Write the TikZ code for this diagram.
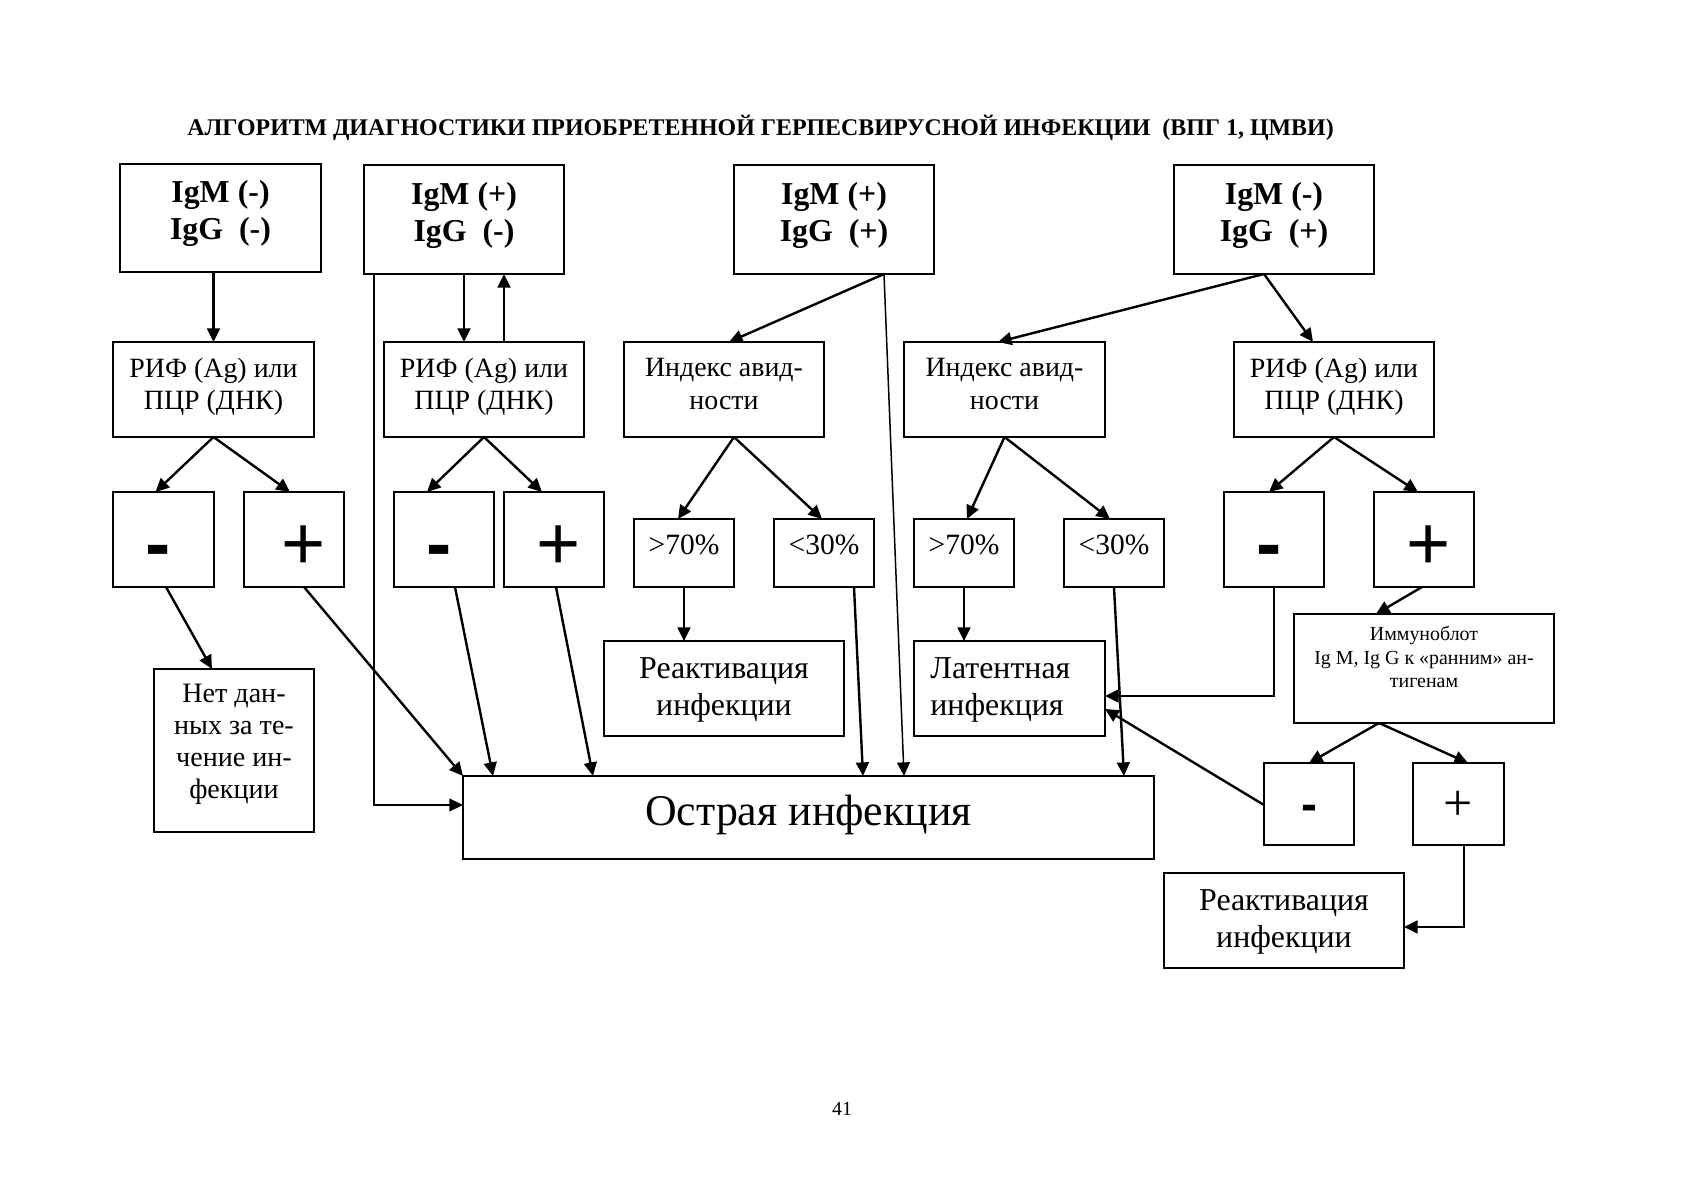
\documentclass[tikz,border=0pt]{standalone}
\usepackage{fontspec}
\setmainfont{Liberation Serif}
\newfontfamily\signfont{Liberation Sans}
\usetikzlibrary{arrows.meta,calc}
\newcommand\mkbox[5]{\node[box,minimum width={(#4-#2)*0.5bp},minimum height={(#5-#3)*0.5bp}] (#1) at ({(#2+#4)/2},{(#3+#5)/2}) {};}
\begin{document}
\begin{tikzpicture}[x=0.5bp,y=-0.5bp,
  box/.style={draw,line width=0.75bp,inner sep=0pt,outer sep=0pt},
  arr/.style={line width=1.2bp,-{Triangle[length=6.8bp,width=6.4bp]}},
  arrthin/.style={line width=0.75bp,-{Triangle[length=6.8bp,width=6.4bp]}},
  igtxt/.style={font=\fontsize{16}{18.75}\bfseries\selectfont,align=center},
  midtxt/.style={font=\fontsize{14}{16.25}\selectfont,align=center},
  pcttxt/.style={font=\fontsize{14.8}{16}\selectfont,anchor=base},
  bigtxt/.style={font=\fontsize{16}{18.5}\selectfont,align=center},
  minussign/.style={font={\signfont\bfseries\fontsize{38}{40}\selectfont},anchor=base,inner sep=0pt},
  plussign/.style={font={\signfont\fontsize{38}{40}\selectfont},anchor=base,inner sep=0pt}]
\useasboundingbox (0,0) rectangle (1684,1191);
\fill[white] (0,0) rectangle (1684,1191);

\node[font=\fontsize{12}{14}\bfseries\selectfont,anchor=base] (title) at (760.5,136)
  {АЛГОРИТМ ДИАГНОСТИКИ ПРИОБРЕТЕННОЙ ГЕРПЕСВИРУСНОЙ ИНФЕКЦИИ\ \ (ВПГ 1, ЦМВИ)};

% boxes
\mkbox{A}{120}{164}{321}{272}
\mkbox{B}{364}{165}{564}{274}
\mkbox{C}{734}{165}{934}{274}
\mkbox{D}{1174}{165}{1374}{274}
\mkbox{R1}{113}{342}{314}{437}
\mkbox{R2}{384}{342}{584}{437}
\mkbox{I1}{624}{342}{824}{437}
\mkbox{I2}{904}{342}{1105}{437}
\mkbox{R3}{1234}{342}{1434}{437}
\mkbox{M1}{113}{492}{214}{587}
\mkbox{P1}{244}{492}{344}{587}
\mkbox{M2}{394}{492}{494}{587}
\mkbox{P2}{504}{492}{604}{587}
\mkbox{G1}{634}{519}{734}{587}
\mkbox{L1}{774}{519}{874}{587}
\mkbox{G2}{914}{519}{1014}{587}
\mkbox{L2}{1064}{519}{1164}{587}
\mkbox{M3}{1224}{492}{1324}{587}
\mkbox{P3}{1374}{492}{1474}{587}
\mkbox{ND}{154}{669}{314}{832}
\mkbox{RA1}{604}{641}{844}{736}
\mkbox{LT}{914}{641}{1105}{736}
\mkbox{IB}{1294}{614}{1554}{723}
\mkbox{OS}{463}{776}{1154}{859}
\mkbox{M4}{1264}{763}{1354}{845}
\mkbox{P4}{1413}{763}{1504}{845}
\mkbox{RA2}{1164}{873}{1404}{968}

% texts
\node[igtxt] (tA) at ($(A.center)+(0,-4.3)$) {IgM (-)\\IgG\ \ (-)};
\node[igtxt] (tB) at ($(B.center)+(0,-4.3)$) {IgM (+)\\IgG\ \ (-)};
\node[igtxt] (tC) at ($(C.center)+(0,-4.3)$) {IgM (+)\\IgG\ \ (+)};
\node[igtxt] (tD) at ($(D.center)+(0,-4.3)$) {IgM (-)\\IgG\ \ (+)};
\node[midtxt] (tR1) at ($(R1.center)+(0,-3)$) {РИФ (Ag) или\\ПЦР (ДНК)};
\node[midtxt] (tR2) at ($(R2.center)+(0,-3)$) {РИФ (Ag) или\\ПЦР (ДНК)};
\node[midtxt] (tR3) at ($(R3.center)+(0,-3)$) {РИФ (Ag) или\\ПЦР (ДНК)};
\node[midtxt] (tI1) at ($(I1.center)+(0,-5.5)$) {Индекс авид-\\ности};
\node[midtxt] (tI2) at ($(I2.center)+(0,-5.5)$) {Индекс авид-\\ности};
\node[pcttxt] (tG1) at ($(G1.south)+(0,-32)$) {>70\%};
\node[pcttxt] (tL1) at ($(L1.south)+(0,-32)$) {<30\%};
\node[pcttxt] (tG2) at ($(G2.south)+(0,-32)$) {>70\%};
\node[pcttxt] (tL2) at ($(L2.south)+(0,-32)$) {<30\%};
\node[minussign] (tM1) at ($(M1.south)+(-5,-17)$) {-};
\node[plussign] (tP1) at ($(P1.south)+(10,-17)$) {+};
\node[minussign] (tM2) at ($(M2.south)+(-5,-17)$) {-};
\node[plussign] (tP2) at ($(P2.south)+(5,-17)$) {+};
\node[minussign] (tM3) at ($(M3.south)+(-5,-17)$) {-};
\node[plussign] (tP3) at ($(P3.south)+(5,-17)$) {+};
\node[font={\signfont\bfseries\fontsize{24}{26}\selectfont},anchor=base,inner sep=0pt] (tM4) at ($(M4.south)+(0,-24)$) {-};
\node[font=\fontsize{26}{28}\selectfont,anchor=base,inner sep=0pt] (tP4) at ($(P4.south)+(0,-24)$) {+};
\node[font=\fontsize{14.1}{16}\selectfont,align=center] (tND) at ($(ND.center)+(0,-6.5)$) {Нет дан-\\ных за те-\\чение ин-\\фекции};
\node[bigtxt] (tRA1) at ($(RA1.center)+(0,1.5)$) {Реактивация\\инфекции};
\node[bigtxt,align=left,anchor=west,inner sep=0pt] (tLT) at ($(LT.west)+(16,1.5)$) {Латентная\\инфекция};
\node[font=\fontsize{10}{11.65}\selectfont,align=center] (tIB) at ($(IB.center)+(0,-11.5)$) {Иммуноблот\\Ig M, Ig G к «ранним» ан-\\тигенам};
\node[font=\fontsize{22}{26}\selectfont,anchor=base] (tOS) at ($(OS.south)+(0,-33)$) {Острая инфекция};
\node[bigtxt] (tRA2) at ($(RA2.center)+(0,1.5)$) {Реактивация\\инфекции};
\node[font=\fontsize{10}{12}\selectfont,anchor=base] (page) at (842,1115) {41};

% connectors
\draw[arr] (A.south -| R1.north) -- (R1.north);
\draw[arr] (B.south) -- (B.south |- R2.north);
\draw[arr] ($(R2.north)+(20,0)$) -- ($(B.south)+(40,0)$);
\draw[arrthin] ($(B.south west)+(10,0)$) |- ($(OS.north west)+(0,29)$);
\draw[arr] (R1.south) -- ($(M1.north)+(-8,0)$);
\draw[arr] (R1.south) -- ($(P1.north)+(-4,0)$);
\draw[arr] (R2.south) -- ($(M2.north)+(-17,0)$);
\draw[arr] (R2.south) -- ($(P2.north)+(-12,0)$);
\coordinate (cI1) at ($(I1.south)+(10,0)$);
\draw[arr] (cI1) -- ($(G1.north)+(-6,0)$);
\draw[arr] (cI1) -- ($(L1.north)+(-2,0)$);
\coordinate (cC) at ($(C.south)+(50,0)$);
\draw[arr] (cC) -- ($(I1.north)+(5,0)$);
\draw[arrthin] (cC) -- ($(OS.north west)+(441,0)$);
\coordinate (cD) at ($(D.south)+(-10,0)$);
\draw[arr] (cD) -- ($(I2.north)+(-6.5,0)$);
\draw[arr] (cD) -- ($(R3.north)+(-21,0)$);
\draw[arr] (I2.south) -- ($(G2.north)+(3,0)$);
\draw[arr] (I2.south) -- ($(L2.north)+(-4,0)$);
\draw[arr] (R3.south) -- ($(M3.north)+(-5,0)$);
\draw[arr] (R3.south) -- ($(P3.north)+(-6,0)$);
\draw[arr] ($(M1.south)+(2.5,0)$) -- ($(ND.north)+(-22,0)$);
\draw[arr] ($(P1.south)+(10,0)$) -- (OS.north west);
\draw[arr] ($(M2.south)+(11,0)$) -- ($(OS.north west)+(30,0)$);
\draw[arr] ($(P2.south)+(2,0)$) -- ($(OS.north west)+(130,0)$);
\draw[arr] (G1.south) -- (G1.south |- RA1.north);
\draw[arr] ($(L1.south)+(30,0)$) -- ($(OS.north west)+(400,0)$);
\draw[arr] (G2.south) -- (G2.south |- LT.north);
\draw[arr] (L2.south) -- ($(OS.north west)+(661,0)$);
\draw[arr] (M3.south) |- ($(LT.east)+(0,7.5)$);
\draw[arr] ($(P3.south)+(-2,0)$) -- ($(IB.north)+(-48,0)$);
\draw[arr] ($(IB.south)+(-45,0)$) -- (M4.north);
\draw[arr] ($(IB.south)+(-45,0)$) -- ($(P4.north)+(9.5,0)$);
\draw[arr] ($(M4.west)+(0,1)$) -- ($(LT.east)+(0,20.5)$);
\draw[arr] ($(P4.south)+(5.5,0)$) |- ($(RA2.east)+(0,6.5)$);
\end{tikzpicture}
\end{document}
